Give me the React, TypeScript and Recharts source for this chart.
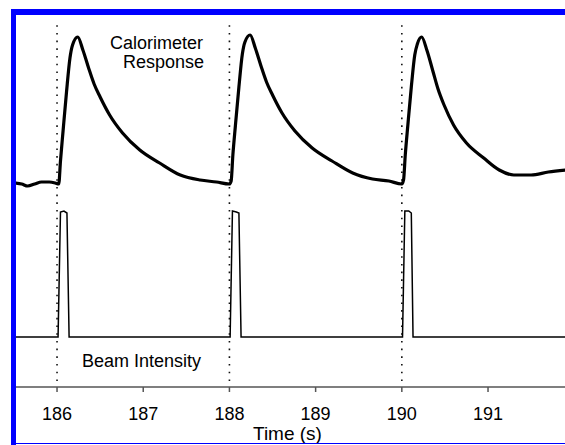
import React from "react";
import { LineChart, Line, XAxis, YAxis, ReferenceLine } from "recharts";

// Calorimeter trace, times in s, signal in arbitrary units (0 = bottom of frame)
const calTimes = [
  185.52, 185.59, 185.66, 185.74, 185.82, 185.91, 185.98, 186.02, 186.04, 186.07,
  186.11, 186.15, 186.18, 186.24, 186.3, 186.37, 186.43, 186.5,
  186.61, 186.76, 186.96, 187.19, 187.43, 187.66, 187.85, 188.0,
  188.02, 188.04, 188.07, 188.11, 188.15, 188.18, 188.24, 188.3,
  188.37, 188.43, 188.5, 188.61, 188.76, 188.96, 189.19, 189.43, 189.66, 189.85, 190.0,
  190.02, 190.04, 190.07, 190.11, 190.15, 190.18, 190.23, 190.29,
  190.36, 190.42, 190.49, 190.6, 190.75, 190.95, 191.13, 191.3, 191.5, 191.7, 191.9,
];
const calValues = [
  204, 203, 201, 203, 205, 205, 204, 203, 226, 256,
  295, 329, 342, 350, 337, 318, 303, 290,
  272, 254, 237, 224, 212, 207, 205, 203,
  206, 232, 262, 300, 333, 345, 352, 339,
  320, 305, 292, 274, 256, 239, 226, 214, 208, 206, 203,
  207, 232, 262, 300, 332, 343, 350, 337,
  316, 298, 282, 262, 244, 229, 217, 212, 212, 215, 217,
];

// Beam intensity trace
const beamTimes = [
  185.52, 186.0, 186.012, 186.04, 186.08, 186.115, 186.14, 187.0,
  188.0, 188.008, 188.035, 188.08, 188.11, 188.135, 189.0,
  190.0, 190.008, 190.035, 190.08, 190.11, 190.13, 191.9,
];
const beamValues = [
  50, 50, 50, 175, 176, 174, 50, 50,
  50, 50, 176, 175, 174, 50, 50,
  50, 50, 176, 176, 174, 50, 50,
];

const pulseTimes = [186, 188, 190];
const xTicks = [186, 187, 188, 189, 190, 191];

const calData = calTimes.map((t, i) => ({ t, v: calValues[i] }));
const beamData = beamTimes.map((t, i) => ({ t, v: beamValues[i] }));

const font = '"Liberation Sans", Arial, sans-serif';
const BLUE = "#0000ff";

export default function App() {
  return (
    <div
      style={{
        position: "absolute",
        left: 0,
        top: 0,
        width: 565,
        height: 445,
        overflow: "hidden",
        background: "#fff",
      }}
    >
      <LineChart
        width={565}
        height={445}
        margin={{ top: 15, right: 0, bottom: 0, left: 16 }}
      >
        <XAxis
          type="number"
          dataKey="t"
          domain={[185.524, 191.893]}
          allowDataOverflow
          ticks={xTicks}
          height={58}
          tickSize={5}
          tickMargin={15}
          stroke="#555"
          strokeWidth={1.5}
          tick={{ fontSize: 18, fill: "#000", fontFamily: font }}
        />
        <YAxis type="number" domain={[0, 372]} hide allowDataOverflow />
        {pulseTimes.map((t) => (
          <ReferenceLine
            key={t}
            segment={[
              { x: t, y: 6 },
              { x: t, y: 366 },
            ]}
            stroke="#111"
            strokeWidth={1.6}
            strokeDasharray="1.6 6.1"
          />
        ))}
        <Line
          data={calData}
          dataKey="v"
          type="monotone"
          stroke="#000"
          strokeWidth={3.2}
          dot={false}
          isAnimationActive={false}
        />
        <Line
          data={beamData}
          dataKey="v"
          type="linear"
          stroke="#000"
          strokeWidth={1.5}
          dot={false}
          isAnimationActive={false}
        />
      </LineChart>
      <svg
        width={565}
        height={445}
        style={{ position: "absolute", left: 0, top: 0, pointerEvents: "none" }}
      >
        <text x={203} y={49} textAnchor="end" fontSize={18} fontFamily={font}>
          Calorimeter
        </text>
        <text x={204} y={68} textAnchor="end" fontSize={18} fontFamily={font}>
          Response
        </text>
        <text x={82} y={367} fontSize={18} fontFamily={font}>
          Beam Intensity
        </text>
        <text x={253} y={440} fontSize={19} fontFamily={font}>
          Time (s)
        </text>
      </svg>
      <div style={{ position: "absolute", left: 11, top: 9, width: 554, height: 5.5, background: BLUE }} />
      <div style={{ position: "absolute", left: 11, top: 9, width: 5, height: 436, background: BLUE }} />
      <div style={{ position: "absolute", left: 11, top: 443, width: 554, height: 1.2, background: BLUE }} />
    </div>
  );
}
